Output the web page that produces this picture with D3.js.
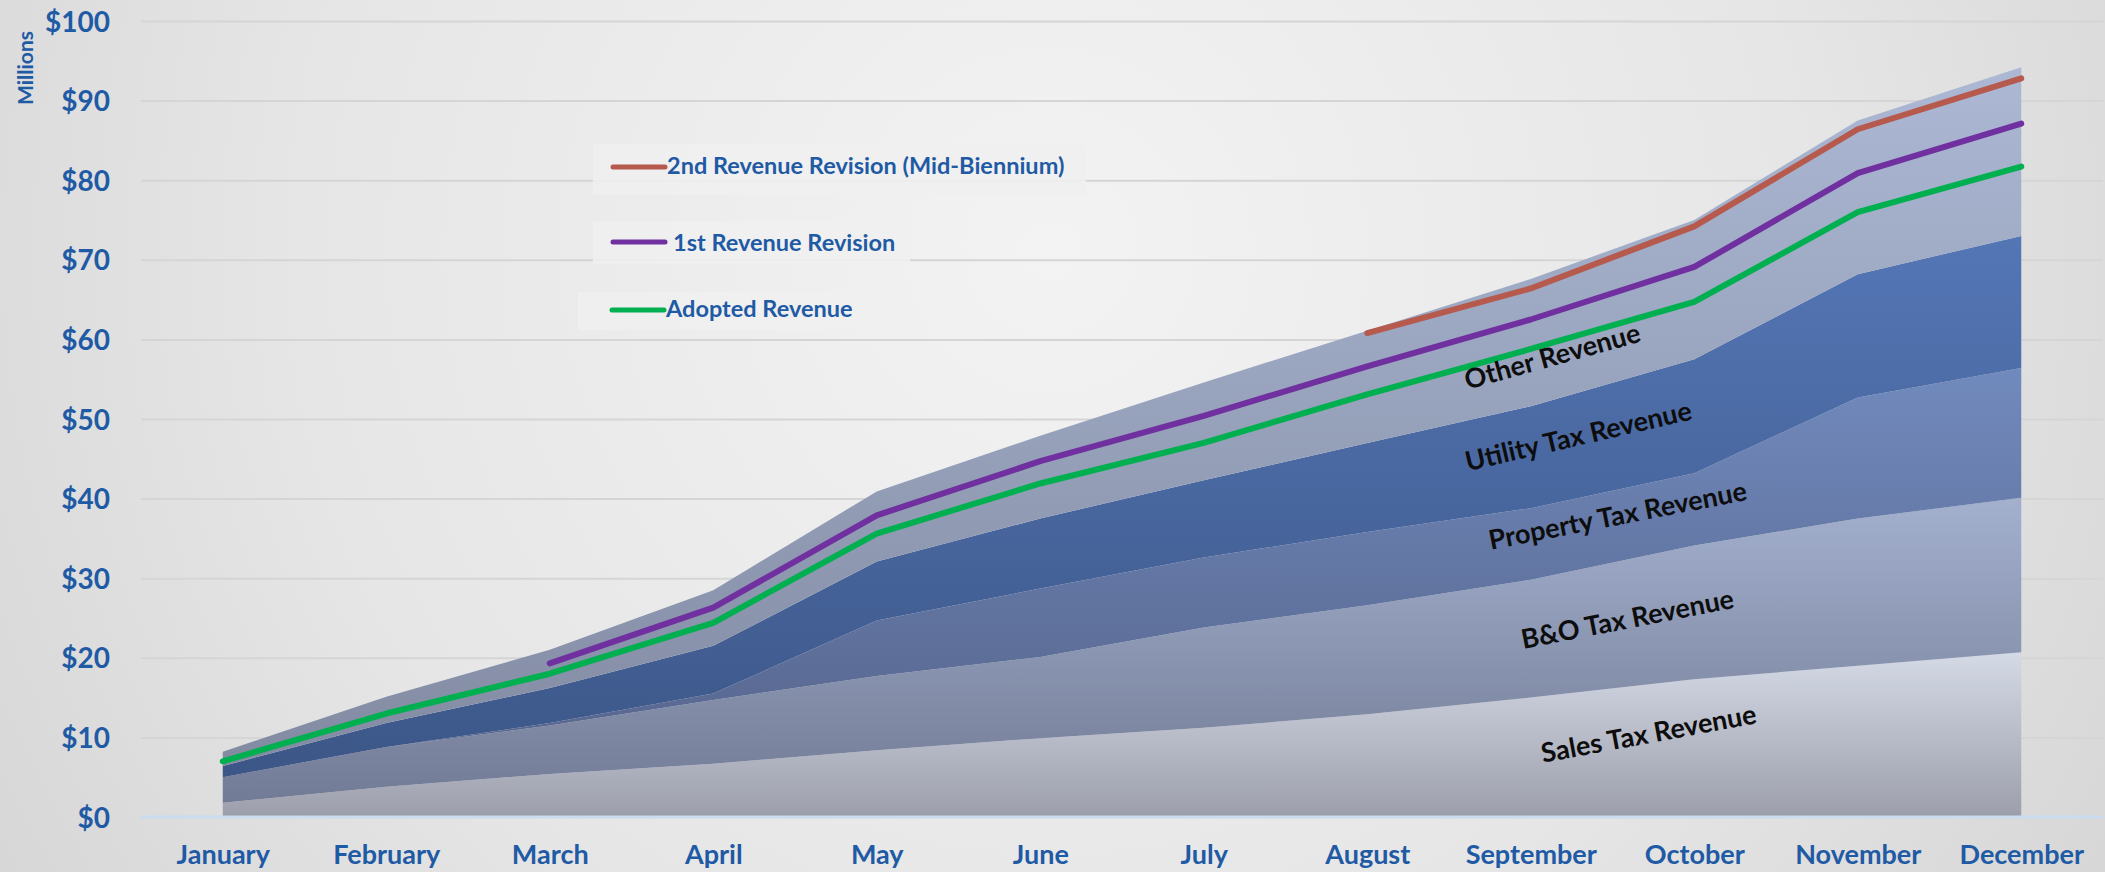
<!DOCTYPE html>
<html>
<head>
<meta charset="utf-8">
<script src="https://cdn.jsdelivr.net/npm/d3@7"></script>
<style>
  html, body { margin: 0; padding: 0; overflow: hidden; background: #e6e6e6; }
  svg { display: block; }
  text { font-family: Lato, "Open Sans", sans-serif; font-weight: 700; }
</style>
</head>
<body>
<script>
// ---------------- DATA ----------------
const months = ["January","February","March","April","May","June","July","August","September","October","November","December"];
const yTickValues = [0,10,20,30,40,50,60,70,80,90,100];

// stacked revenue components ($ millions, cumulative year-to-date per component)
const salesTax    = [1.8, 3.8, 5.4, 6.7, 8.4, 9.9, 11.2, 12.9, 15.0, 17.3, 19.0, 20.7];
const boTax       = [3.2, 5.0, 6.1, 8.0, 9.3, 10.2, 12.6, 13.7, 14.8, 16.8, 18.5, 19.4];
const propertyTax = [0.0, 0.0, 0.3, 0.8, 7.0, 8.6, 8.8, 9.2, 9.0, 9.1, 15.2, 16.3];
const utilityTax  = [1.4, 3.0, 4.4, 6.0, 7.4, 8.8, 9.7, 11.2, 12.8, 14.3, 15.5, 16.6];
const otherRev    = [1.8, 3.3, 4.8, 7.0, 8.8, 10.4, 12.3, 14.1, 16.0, 17.5, 19.3, 21.2];

// budget lines
const adopted   = [7.0, 13.0, 18.0, 24.4, 35.6, 41.9, 47.0, 53.1, 58.8, 64.7, 76.0, 81.7];
const revision1 = [null, null, 19.3, 26.3, 37.9, 44.7, 50.4, 56.6, 62.5, 69.1, 80.9, 87.1];
const revision2 = [null, null, null, null, null, null, null, 60.8, 66.4, 74.2, 86.4, 92.8];

const areaKeys   = ["sales","bo","property","utility","other"];
const areaNames  = ["Sales Tax Revenue","B&O Tax Revenue","Property Tax Revenue","Utility Tax Revenue","Other Revenue"];
const lineNames  = ["2nd Revenue Revision (Mid-Biennium)","1st Revenue Revision","Adopted Revenue"];

// ---------------- STYLE / LAYOUT ----------------
const W = 2105, H = 872;
const plot = { left: 141, right: 2103, top: 21, bottom: 817 };
const axisBlue = "#1f5aa5";
const areaGrad = {
  sales:    ["#d5dae7", "#9c9eab"],
  bo:       ["#a3b0ce", "#727b95"],
  property: ["#718abd", "#55638a"],
  utility:  ["#5476b5", "#3c5687"],
  other:    ["#acb8d4", "#828ba2"]
};
const lineColors = { rev2: "#b65a4e", rev1: "#7030a0", adopted: "#00b050" };

const svg = d3.select("body").append("svg").attr("width", W).attr("height", H);
const defs = svg.append("defs");

// background
const bg = defs.append("radialGradient").attr("id","bg")
  .attr("gradientUnits","userSpaceOnUse").attr("cx",1050).attr("cy",250).attr("r",1250);
bg.append("stop").attr("offset","0").attr("stop-color","#f3f3f3");
bg.append("stop").attr("offset","0.6").attr("stop-color","#e6e6e6");
bg.append("stop").attr("offset","1").attr("stop-color","#d6d6d6");
svg.append("rect").attr("width",W).attr("height",H).attr("fill","url(#bg)");

areaKeys.forEach(k => {
  const g = defs.append("linearGradient").attr("id","g-"+k)
    .attr("x1",0).attr("y1",0).attr("x2",0).attr("y2",1);
  g.append("stop").attr("offset","0").attr("stop-color", areaGrad[k][0]);
  g.append("stop").attr("offset","1").attr("stop-color", areaGrad[k][1]);
});

// scales
const x = d3.scalePoint().domain(months).range([plot.left, plot.right]).padding(0.5);
const y = d3.scaleLinear().domain([0,100]).range([plot.bottom, plot.top]);
const xi = d3.scaleLinear().domain([0, months.length-1]).range([x(months[0]), x(months[months.length-1])]);

// gridlines
svg.append("g").attr("transform",`translate(${plot.left},0)`)
  .call(d3.axisLeft(y).tickValues(yTickValues.filter(v=>v>0)).tickSize(-(plot.right-plot.left)).tickFormat(""))
  .call(g => g.select(".domain").remove())
  .call(g => g.selectAll("line").attr("stroke","#d5d5d5").attr("stroke-width",2));

// stacked areas
const rows = months.map((m,i) => ({
  month: m, sales: salesTax[i], bo: boTax[i], property: propertyTax[i], utility: utilityTax[i], other: otherRev[i]
}));
const stack = d3.stack().keys(areaKeys)(rows);
const area = d3.area()
  .x(d => x(d.data.month))
  .y0(d => y(d[0]))
  .y1(d => y(d[1]));
svg.append("g").selectAll("path").data(stack).join("path")
  .attr("d", area)
  .attr("fill", d => `url(#g-${d.key})`);

// baseline axis
svg.append("line").attr("x1",plot.left).attr("x2",plot.right)
  .attr("y1",y(0)).attr("y2",y(0)).attr("stroke","#c9dcf0").attr("stroke-width",3);

// lines
const line = d3.line().defined(d => d != null).x((d,i) => xi(i)).y(d => y(d));
const lineSeries = [
  { key: "adopted", values: adopted },
  { key: "rev1", values: revision1 },
  { key: "rev2", values: revision2 }
];
svg.append("g").selectAll("path").data(lineSeries).join("path")
  .attr("d", d => line(d.values))
  .attr("fill","none")
  .attr("stroke", d => lineColors[d.key])
  .attr("stroke-width", 6)
  .attr("stroke-linecap","round")
  .attr("stroke-linejoin","round");

// y axis labels
svg.append("g").attr("transform",`translate(${plot.left},0)`)
  .call(d3.axisLeft(y).tickValues(yTickValues).tickSize(0).tickPadding(31).tickFormat(d => "$" + d))
  .call(g => g.select(".domain").remove())
  .call(g => g.selectAll("text")
     .attr("fill", axisBlue).attr("font-size", 28).attr("font-weight",700)
     .attr("font-family","Lato, sans-serif").attr("dy","0.36em"));

// x axis labels
svg.append("g").attr("transform",`translate(0,${plot.bottom})`)
  .call(d3.axisBottom(x).tickSize(0).tickPadding(0))
  .call(g => g.select(".domain").remove())
  .call(g => g.selectAll("text")
     .attr("fill", axisBlue).attr("font-size", 27).attr("font-weight",700)
     .attr("font-family","Lato, sans-serif").attr("y", 47).attr("dy", 0));

// Millions title
svg.append("text").attr("transform","translate(33,68) rotate(-90)")
  .attr("text-anchor","middle").attr("fill",axisBlue).attr("font-size",21)
  .text("Millions");

// in-area labels (positions in data units: month index, value)
const areaLabelPos = [
  { i: 8.72, v: 10.6, rot: -10.5 },
  { i: 8.59, v: 25.0, rot: -11 },
  { i: 8.53, v: 38.0, rot: -11 },
  { i: 8.29, v: 48.0, rot: -13 },
  { i: 8.13, v: 58.0, rot: -15.5 }
];
svg.append("g").selectAll("text").data(areaNames).join("text")
  .attr("transform", (d,k) => `translate(${xi(areaLabelPos[k].i)},${y(areaLabelPos[k].v)}) rotate(${areaLabelPos[k].rot})`)
  .attr("text-anchor","middle").attr("dominant-baseline","central")
  .attr("font-size", 27).attr("fill","#0d0d0d")
  .text(d => d);

// legend
const legendBoxes = [
  { box: [593,144,493,51], lx: [613,665], ly: 167, tx: 667, ty: 174, color: lineColors.rev2 },
  { box: [593,221,317,43], lx: [613,665], ly: 242, tx: 673, ty: 251, color: lineColors.rev1 },
  { box: [578,292,314,38], lx: [612,664], ly: 310, tx: 666, ty: 317, color: lineColors.adopted }
];
const lg = svg.append("g").selectAll("g").data(lineNames).join("g");
lg.append("rect")
  .attr("x",(d,k)=>legendBoxes[k].box[0]).attr("y",(d,k)=>legendBoxes[k].box[1])
  .attr("width",(d,k)=>legendBoxes[k].box[2]).attr("height",(d,k)=>legendBoxes[k].box[3])
  .attr("fill","#f0f0f0").attr("opacity",0.85);
lg.append("line")
  .attr("x1",(d,k)=>legendBoxes[k].lx[0]).attr("x2",(d,k)=>legendBoxes[k].lx[1])
  .attr("y1",(d,k)=>legendBoxes[k].ly).attr("y2",(d,k)=>legendBoxes[k].ly)
  .attr("stroke",(d,k)=>legendBoxes[k].color).attr("stroke-width",5).attr("stroke-linecap","round");
lg.append("text")
  .attr("x",(d,k)=>legendBoxes[k].tx).attr("y",(d,k)=>legendBoxes[k].ty)
  .attr("fill", axisBlue).attr("font-size", 23.5)
  .text(d => d);
</script>
</body>
</html>
